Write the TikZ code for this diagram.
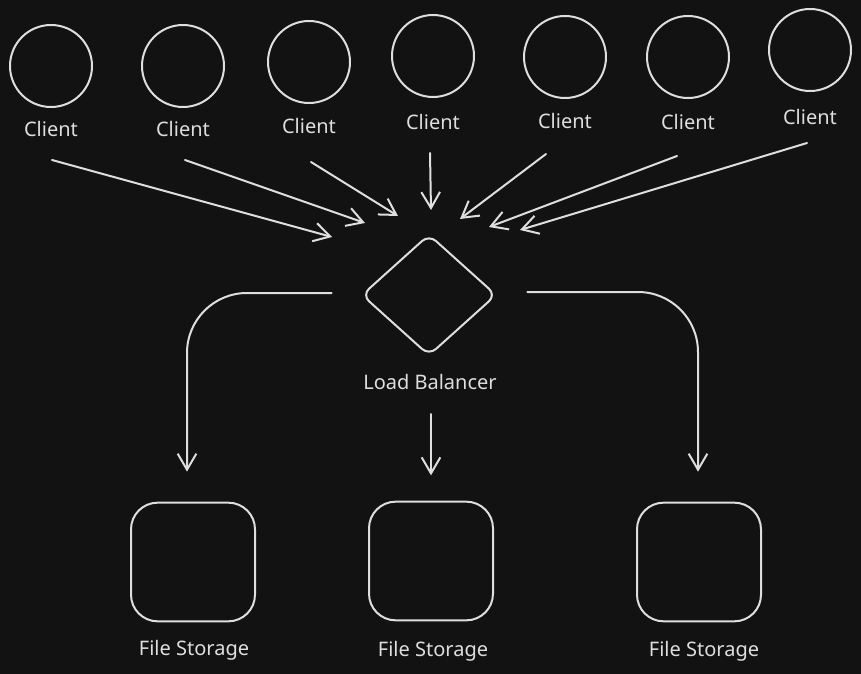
\documentclass[tikz,border=0pt]{standalone}
\usepackage{fontspec}
\setmainfont{Noto Sans}
\usepackage{tikz}
\usetikzlibrary{arrows.meta, positioning, shapes.geometric}
\definecolor{bgdark}{HTML}{121212}
\definecolor{chalk}{HTML}{DEDEDE}

\tikzset{
  client/.style={circle, draw=chalk, line width=1.5pt, minimum size=61.5pt, inner sep=0pt},
  storebox/.style={rectangle, draw=chalk, line width=1.5pt, rounded corners=20pt,
                   minimum width=93pt, minimum height=89pt, inner sep=0pt},
  balancer/.style={diamond, draw=chalk, line width=1.5pt, rounded corners=7pt,
                   minimum width=101pt, minimum height=91pt, inner sep=0pt},
  lbl/.style={text=chalk, font=\fontsize{15}{17}\selectfont, inner sep=1pt},
  arr/.style={draw=chalk, line width=1.5pt, line cap=round,
              -{Straight Barb[length=12pt, width=14pt, line width=1.5pt]}}
}

\begin{document}
\begin{tikzpicture}[x=0.75pt, y=-0.75pt]
  \useasboundingbox (0,0) rectangle (861,674);
  \fill[bgdark] (0,0) rectangle (861,674);

  % clients along the top
  \foreach \i/\x/\y/\ly in {1/51/66/129, 2/183/66/129, 3/309/62/126, 4/433/56/122,
                            5/565/57/121, 6/688/57/122, 7/810/50/117}{
    \node[client] (c\i) at (\x,\y) {};
    \node[lbl] (l\i) at (\x,\ly) {Client};
  }

  % load balancer
  \node[balancer] (lb) at (429,295) {};
  \node[lbl] (lbl) at (430,382) {Load Balancer};

  % storage
  \node[storebox] (fs1) at (193,562) {};
  \node[storebox] (fs2) at (431,561) {};
  \node[storebox] (fs3) at (699,562) {};
  \node[lbl] (fl1) at (194,650) {File Storage};
  \node[lbl] (fl2) at (433,651) {File Storage};
  \node[lbl] (fl3) at (704,651) {File Storage};

  % requests into the balancer
  \foreach \i/\dx/\dy/\ex/\ey in {1/1/31/332/237, 2/2/31/365/223, 3/2/36/398/216,
                                  4/-3/31/431/210, 5/-19/33/460/219, 6/-11/34/489/227,
                                  7/-3/26/520/230}{
    \coordinate (in\i) at (\ex,\ey);
    \draw[arr] (l\i.center) ++(\dx,\dy) -- (in\i);
  }

  % balancer out to storage
  \draw[arr, rounded corners=45pt] (lb.west) ++(-29,-2) -| ([yshift=22.5pt]fs1.north -| 187,0);
  \draw[arr] ([yshift=-24pt]lbl.center -| fs2.north) -- ([yshift=19pt]fs2.north);
  \draw[arr, rounded corners=45pt] (lb.east) ++(30,-3) -| ([yshift=22.5pt]fs3.north -| 698,0);
\end{tikzpicture}
\end{document}
